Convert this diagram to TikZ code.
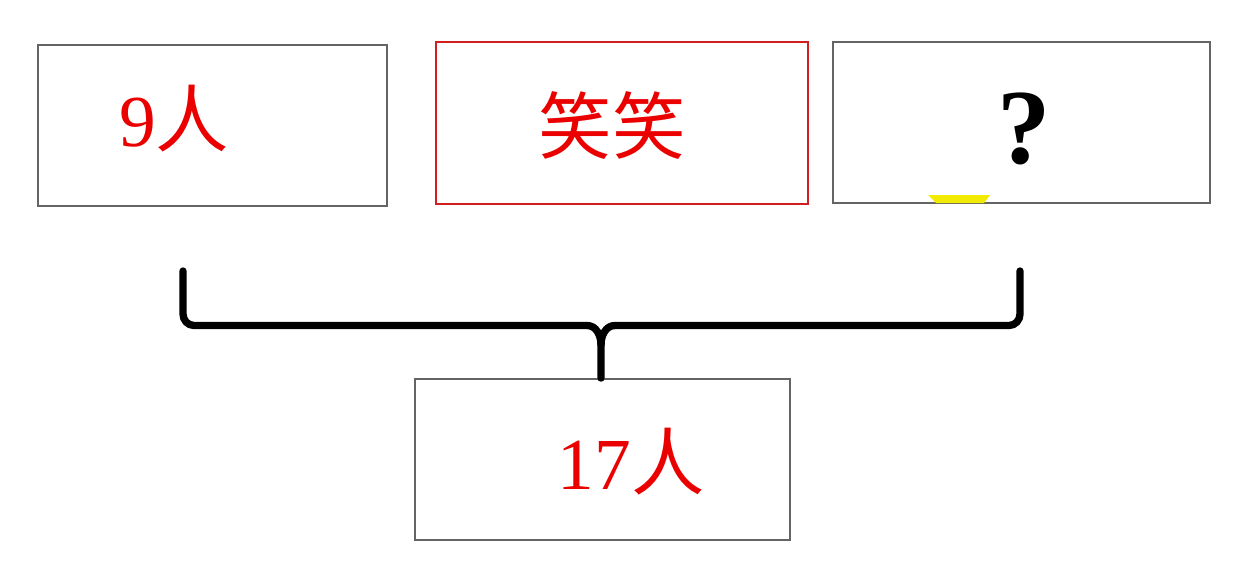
\documentclass[tikz,border=0pt]{standalone}
\usepackage{fontspec}
\setmainfont{Liberation Serif}
\newfontfamily\cjk{Noto Sans CJK SC}
\definecolor{boxgray}{RGB}{100,100,100}
\definecolor{boxred}{RGB}{210,30,30}
\definecolor{txtred}{RGB}{235,0,0}
\definecolor{hiyellow}{RGB}{240,235,0}
\tikzset{
  pbox/.style={draw=boxgray, line width=1.4pt, inner sep=0pt},
  rbox/.style={draw=boxred, line width=1.4pt, inner sep=0pt},
  lbl/.style={inner sep=0pt, text=txtred},
  brace/.style={line width=5.5pt, line cap=round, line join=round}
}
\begin{document}
\begin{tikzpicture}[x=0.75pt, y=-0.75pt]
\useasboundingbox (0,0) rectangle (1245,563);
\fill[white] (0,0) rectangle (1245,563);
% boxes
\node (b1) [pbox, minimum width=349*0.75pt, minimum height=161*0.75pt] at (212.5,125.5) {};
\node (b2) [rbox, minimum width=372*0.75pt, minimum height=162*0.75pt] at (622,123) {};
\node (b3) [pbox, minimum width=377*0.75pt, minimum height=161*0.75pt] at (1021.5,122.5) {};
\node (b4) [pbox, minimum width=375*0.75pt, minimum height=161*0.75pt] at (602.5,459.5) {};
% labels
\node (t1) [lbl, font=\fontsize{55pt}{60pt}\selectfont] at (174,119) {9{\cjk 人}};
\node (t2) [lbl, font=\fontsize{55pt}{60pt}\selectfont\cjk] at (612,126) {笑笑};
\node (t3) [inner sep=0pt, font=\fontsize{80pt}{84pt}\selectfont\bfseries] at (1024,129) {?};
\node (t4) [lbl, font=\fontsize{55pt}{60pt}\selectfont] at (631,462) {17{\cjk 人}};
% yellow mark under the question box
\fill[hiyellow] (928,195) -- (990,195) -- (984,203) -- (936,203) -- cycle;
% brace
\coordinate (la) at (183,271);
\coordinate (ra) at (1020,271);
\coordinate (mid) at (601,345);
\draw[brace] (la) -- (183,314) to[out=-90,in=180] (194,325.5) -- (587,325.5) to[out=0,in=90] (mid) -- (b4.north -| mid);
\draw[brace] (ra) -- (1020,314) to[out=-90,in=0] (1009,325.5) -- (615,325.5) to[out=180,in=90] (mid);
\end{tikzpicture}
\end{document}
